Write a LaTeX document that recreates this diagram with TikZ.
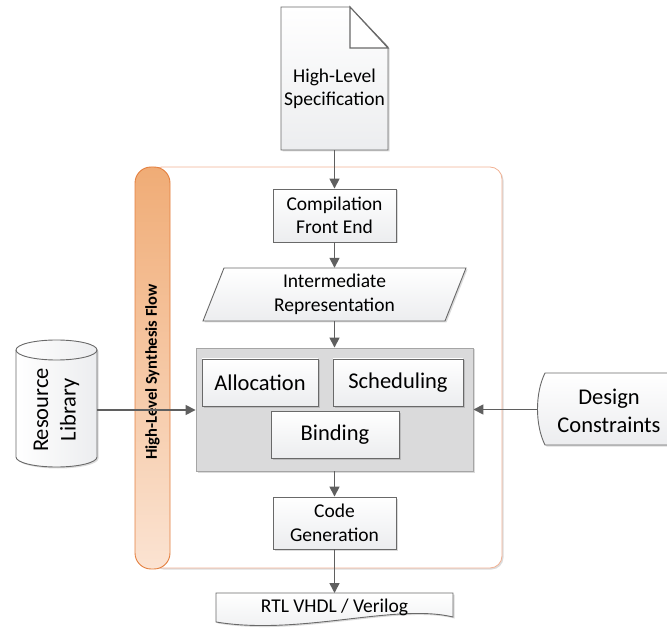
\documentclass[tikz,border=0pt]{standalone}
\usepackage{fontspec}
\setmainfont{Carlito}
\usetikzlibrary{arrows.meta,shadows}

\definecolor{linegray}{RGB}{95,95,95}
\definecolor{edgegray}{RGB}{105,105,105}
\definecolor{boxtop}{RGB}{255,255,255}
\definecolor{boxbot}{RGB}{236,237,239}
\definecolor{panelgray}{RGB}{218,218,219}
\definecolor{paneledge}{RGB}{165,165,165}
\definecolor{flowedge}{RGB}{242,178,148}
\definecolor{barTop}{RGB}{240,172,118}
\definecolor{barBot}{RGB}{251,227,210}
\definecolor{baredge}{RGB}{228,128,64}

\tikzset{
  shadowed/.style={drop shadow={shadow xshift=1.5pt,shadow yshift=-1.5pt,fill=black,opacity=0.14}},
  mainfont/.style={font=\fontsize{19.5}{23.5}\selectfont},
  bigfont/.style={font=\fontsize{22.5}{27.5}\selectfont},
  shapeline/.style={draw=edgegray, line width=0.9pt, top color=boxtop, bottom color=boxbot},
  procbox/.style={rectangle, shapeline, align=center, inner sep=0pt, shadowed},
  anchorbox/.style={rectangle, draw=none, inner sep=0pt},
  flow/.style={draw=linegray, line width=1.6pt, -{Triangle[length=10pt,width=10pt]}}
}

\begin{document}
\begin{tikzpicture}[x=1pt,y=1pt]
\useasboundingbox (0,0) rectangle (667,-628);
\clip (0,0) rectangle (667,-628);

% synthesis flow frame and its side bar
\draw[flowedge, line width=0.8pt, rounded corners=12pt, fill=white, shadowed] (150,-167) rectangle (502,-568);
\draw[draw=baredge, line width=0.9pt, top color=barTop, bottom color=barBot, rounded corners=16pt] (135,-167) rectangle (170,-569);
\node[rotate=90, font=\bfseries\fontsize{16.5}{20}\selectfont] (flowlabel) at (152.5,-372) {High-Level Synthesis Flow};

% input document
\draw[shapeline, shadowed] (281,-7) -- (350,-7) -- (388,-47) -- (388,-150) -- (281,-150) -- cycle;
\draw[draw=edgegray, line width=1.1pt, fill=white] (350,-7) -- (350,-48) -- (388,-48) -- cycle;
\node[anchorbox, minimum width=107pt, minimum height=143pt] (specdoc) at (334.5,-78.5) {};
\node[mainfont, align=center] (spec) at (334.5,-89) {High-Level\\Specification};

% front end
\node[procbox, mainfont, minimum width=123pt, minimum height=53pt] (cfe) at (334.5,-215.5) {Compilation\\Front End};

% intermediate representation
\draw[shapeline, shadowed] (224,-268) -- (466,-268) -- (445,-321) -- (203,-321) -- cycle;
\node[anchorbox, mainfont, align=center, minimum width=242pt, minimum height=53pt] (ir) at (334.5,-294.5) {Intermediate\\Representation};

% core synthesis steps
\node[rectangle, draw=paneledge, line width=0.9pt, fill=panelgray, minimum width=277pt, minimum height=123pt, shadowed] (core) at (334.5,-409.5) {};
\node[procbox, bigfont, minimum width=116pt, minimum height=47pt] (alloc) at (260,-382.5) {Allocation};
\node[procbox, bigfont, minimum width=130pt, minimum height=47pt] (sched) at (398,-382.5) {Scheduling};
\node[procbox, bigfont, minimum width=128pt, minimum height=47pt] (bind) at (335,-434.5) {Binding};

% back end
\node[procbox, mainfont, minimum width=123pt, minimum height=52pt] (cg) at (334.5,-523) {Code\\Generation};

% output document
\draw[shapeline, shadowed] (216,-593) -- (453,-593) -- (453,-617) .. controls (395,-603) and (300,-636) .. (216,-622) -- cycle;
\node[anchorbox, mainfont, minimum width=237pt, minimum height=28pt, anchor=north] (rtl) at (334.5,-593) {RTL VHDL / Verilog};

% resource library (cylinder, full ellipse on top)
\draw[draw=edgegray, line width=0.9pt, left color=boxtop, right color=boxbot, shadowed]
  (16,-350) -- (16,-457) arc[start angle=180, end angle=360, x radius=40.5pt, y radius=10pt]
  -- (97,-350) arc[start angle=0, end angle=180, x radius=40.5pt, y radius=10pt] -- cycle;
\draw[draw=edgegray, line width=0.9pt]
  (16,-350) arc[start angle=180, end angle=360, x radius=40.5pt, y radius=10pt];
\node[anchorbox, minimum width=81pt, minimum height=104pt] (rl) at (56.5,-410) {};
\node[rotate=90, bigfont, align=center] (rltext) at (56.5,-410) {Resource\\Library};

% design constraints (stored data)
\draw[shapeline, shadowed] (545,-373) -- (674,-373) .. controls (666,-395) and (666,-423) .. (674,-445)
  -- (545,-445) .. controls (535,-425) and (535,-393) .. cycle;
\node[anchorbox, minimum width=130pt, minimum height=72pt] (dc) at (602,-409.5) {};
\node[bigfont, align=center] (dctext) at (609,-411) {Design\\Constraints};

% connectors
\draw[flow] (specdoc.south) -- (cfe.north);
\draw[flow] (cfe.south) -- (ir.north);
\draw[flow] (ir.south) -- (core.north);
\draw[flow] (core.south) -- (cg.north);
\draw[flow] (cg.south) -- (rtl.north);
\draw[flow] (rl.east) -- (rl.east -| core.west);
\draw[flow] (dc.west) -- (dc.west -| core.east);
\end{tikzpicture}
\end{document}
